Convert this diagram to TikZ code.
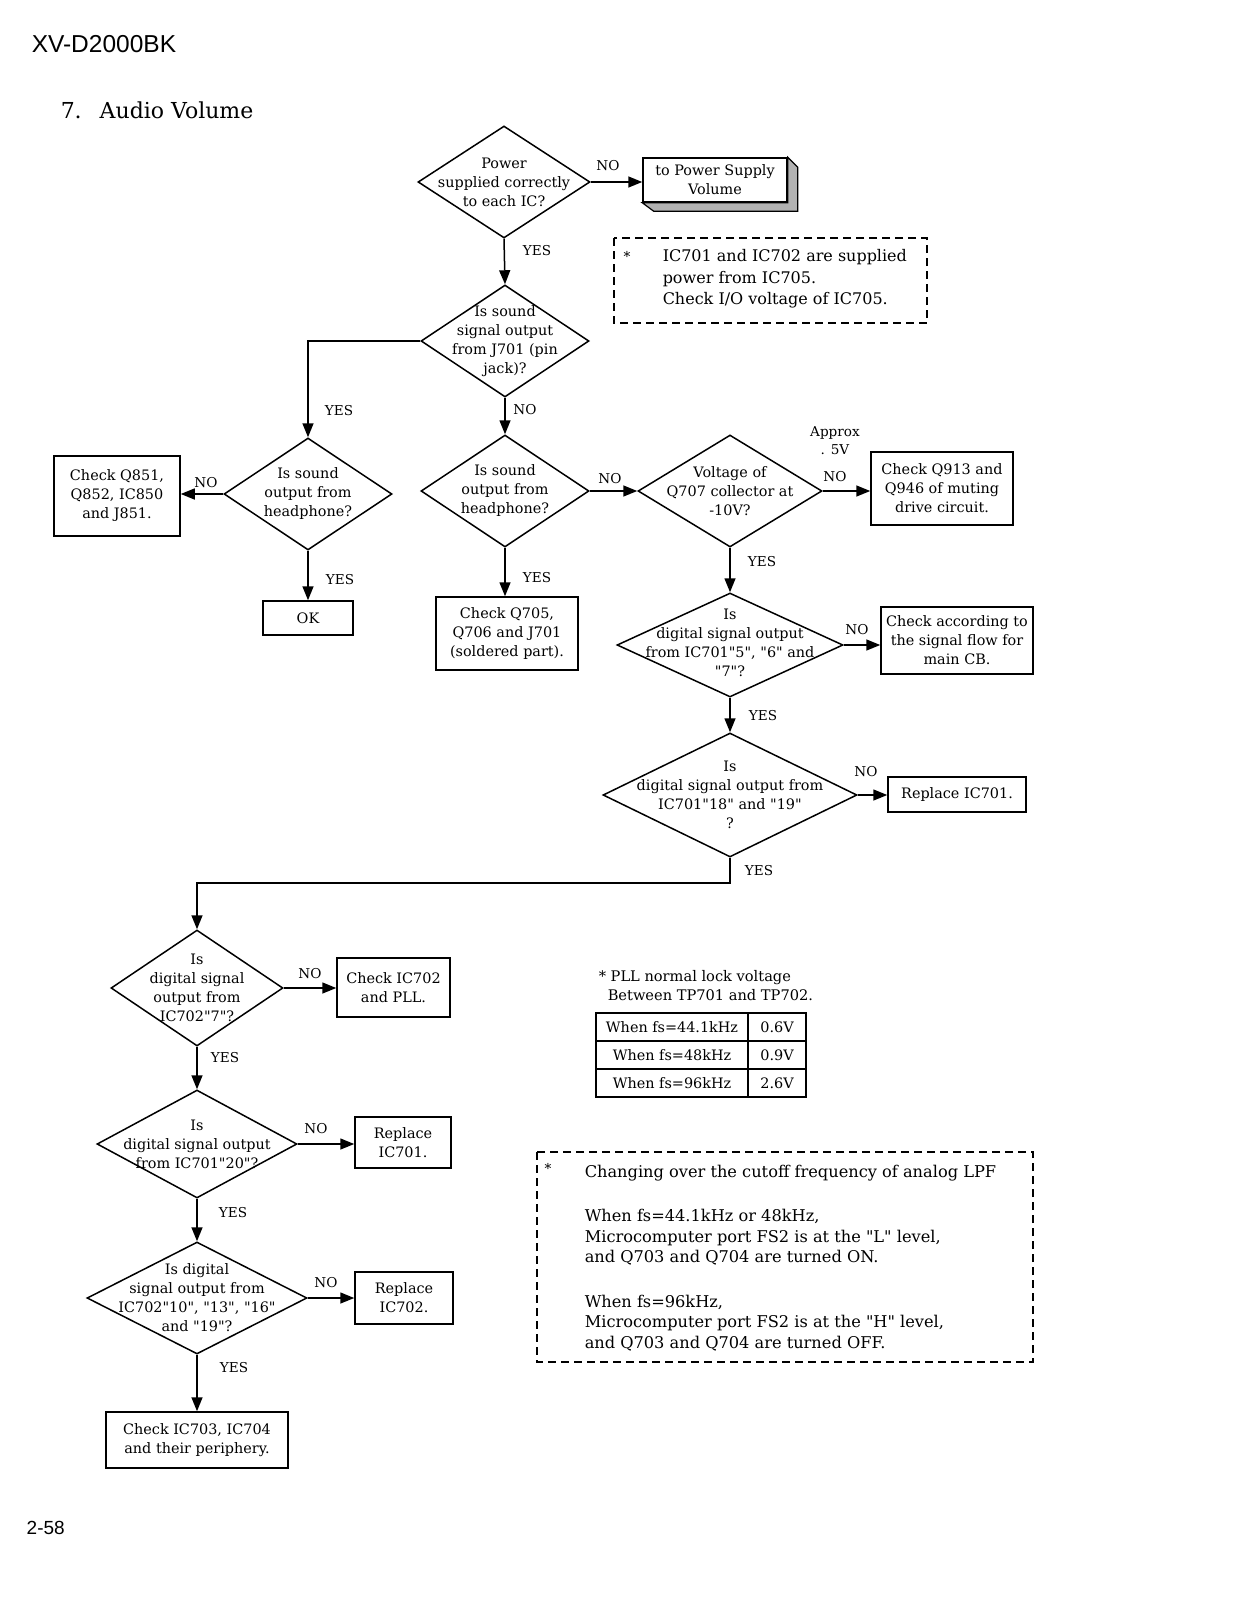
\documentclass[tikz,border=0pt]{standalone}
\usepackage{fontspec}
\setmainfont{DejaVu Serif}[Ligatures=TeXOff]
\newfontfamily\hdrfont{Liberation Sans}
\usetikzlibrary{shapes.geometric,arrows.meta}

\begin{document}
\begin{tikzpicture}[x=1pt, y=-1pt, line width=1.5pt,
	dia/.style={draw, diamond, inner sep=0pt},
	dtext/.style={align=center, inner sep=0pt, font=\fontsize{14.4}{19}\selectfont},
	box/.style={draw, rectangle, inner sep=0pt, align=center, font=\fontsize{14.4}{19}\selectfont},
	cell/.style={draw, rectangle, inner sep=0pt, minimum height=28pt, font=\fontsize{14.4}{19}\selectfont},
	lbl/.style={inner sep=0pt, align=center, font=\fontsize{13.6}{18}\selectfont},
	arr/.style={-{Triangle[length=14pt,width=11pt]}},
	note/.style={draw, dash pattern=on 8pt off 5pt, line width=1.3pt}]
	\useasboundingbox (0,0) rectangle (1237,1600);

	% page header and footer
	\node[anchor=west, inner sep=0pt, font=\hdrfont\fontsize{24.5}{28}\selectfont] (model) at (31,44.5) {XV-D2000BK};
	\node[anchor=west, inner sep=0pt, font=\fontsize{22}{26}\selectfont] (title) at (60,110) {7.\hspace{18pt}Audio Volume};
	\node[anchor=west, inner sep=0pt, font=\hdrfont\fontsize{19}{22}\selectfont] (page) at (26,1528) {2-58};

	% upper part
	\node[dia, minimum width=172pt, minimum height=112pt] (d1) at (504,182) {};
		\node[dtext] (d1t) at (d1) {Power\\supplied correctly\\to each IC?};
	\node[box, minimum width=144pt, minimum height=44pt] (ps) at (715,180) {to Power Supply\\Volume};
		\filldraw[fill=black!30, line width=1.2pt] (ps.north east) -- ++(10,10) -- ++(0,44) -- ++(-144,0) -- (ps.south west) -- (ps.south east) -- cycle;
	\node[dia, minimum width=168pt, minimum height=112pt] (d2) at (505,341) {};
		\node[dtext] (d2t) at (d2) {Is sound\\signal output\\from J701 (pin\\jack)?};

	\draw[note] (614,238) rectangle (927,323);
		\node[lbl] (star1) at (627,256) {*};
		\node[anchor=west, align=left, inner sep=0pt, font=\fontsize{16}{21.5}\selectfont] (note1) at (662,279) {IC701 and IC702 are supplied\\power from IC705.\\Check I/O voltage of IC705.};

	% headphone checks
	\node[dia, minimum width=168pt, minimum height=112pt] (d3) at (308,494) {};
		\node[dtext] (d3t) at (d3) {Is sound\\output from\\headphone?};
	\node[box, minimum width=126pt, minimum height=80pt] (q851) at (117,496) {Check Q851,\\Q852, IC850\\and J851.};
	\node[box, minimum width=90pt, minimum height=34pt] (ok) at (308,618) {OK};
	\node[dia, minimum width=168pt, minimum height=112pt] (d4) at (505,491) {};
		\node[dtext] (d4t) at (d4) {Is sound\\output from\\headphone?};
	\node[box, minimum width=142pt, minimum height=73pt] (q705) at (507,633.5) {Check Q705,\\Q706 and J701\\(soldered part).};

	% right column
	\node[dia, minimum width=184pt, minimum height=112pt] (d5) at (730,491) {};
		\node[dtext] (d5t) at (d5) {Voltage of\\Q707 collector at\\-10V?};
	\node[box, minimum width=142pt, minimum height=73pt] (q913) at (942,488.5) {Check Q913 and\\Q946 of muting\\drive circuit.};
	\node[dia, minimum width=226pt, minimum height=104pt] (d6) at (730,645) {};
		\node[dtext] (d6t) at (730,643) {Is\\digital signal output\\from IC701"5", "6" and\\"7"?};
	\node[box, minimum width=152pt, minimum height=67pt] (flow) at (957,640.5) {Check according to\\the signal flow for\\main CB.};
	\node[dia, minimum width=254pt, minimum height=124pt] (d7) at (730,795) {};
		\node[dtext] (d7t) at (d7) {Is\\digital signal output from\\IC701"18" and "19"\\?};
	\node[box, minimum width=138pt, minimum height=35pt] (rep1) at (957,794.5) {Replace IC701.};

	% lower left column
	\node[dia, minimum width=172pt, minimum height=116pt] (d8) at (197,988) {};
		\node[dtext] (d8t) at (d8) {Is\\digital signal\\output from\\IC702"7"?};
	\node[box, minimum width=113pt, minimum height=59pt] (pll) at (393.5,987.5) {Check IC702\\and PLL.};
	\node[dia, minimum width=200pt, minimum height=108pt] (d9) at (197,1144) {};
		\node[dtext] (d9t) at (d9) {Is\\digital signal output\\from IC701"20"?};
	\node[box, minimum width=96pt, minimum height=51pt] (rep2) at (403,1142.5) {Replace\\IC701.};
	\node[dia, minimum width=220pt, minimum height=112pt] (d10) at (197,1298) {};
		\node[dtext] (d10t) at (d10) {Is digital\\signal output from\\IC702"10", "13", "16"\\and "19"?};
	\node[box, minimum width=98pt, minimum height=52pt] (rep3) at (404,1298) {Replace\\IC702.};
	\node[box, minimum width=182pt, minimum height=56pt] (ic703) at (197,1440) {Check IC703, IC704\\and their periphery.};

	% PLL table
	\node[anchor=base west, inner sep=0pt, font=\fontsize{14.6}{19}\selectfont] (pll1) at (598,981) {* PLL normal lock voltage};
	\node[anchor=base west, inner sep=0pt, font=\fontsize{14.6}{19}\selectfont] (pll2) at (607,1000) {Between TP701 and TP702.};
	\foreach \f/\v/\y [count=\i] in {44.1/0.6/1027, 48/0.9/1055, 96/2.6/1083}{
		\node[cell, minimum width=152pt] (f\i) at (672,\y) {When fs=\f kHz};
		\node[cell, minimum width=58pt] (v\i) at (777,\y) {\v V};
	}

	% LPF note
	\draw[note] (537,1152) rectangle (1033,1362);
		\node[lbl] (star2) at (548,1168) {*};
		\node[anchor=north west, align=left, inner sep=0pt, font=\fontsize{16.2}{20.5}\selectfont] (note2) at (584,1164) {Changing over the cutoff frequency of analog LPF\\[24pt]When fs=44.1kHz or 48kHz,\\Microcomputer port FS2 is at the "L" level,\\and Q703 and Q704 are turned ON.\\[24pt]When fs=96kHz,\\Microcomputer port FS2 is at the "H" level,\\and Q703 and Q704 are turned OFF.};

	% connectors
	\draw[arr] (d1.east) -- (d1.east -| ps.west);
	\draw[arr] (d1.south) -- (d2.north);
	\draw[arr] (d2.west) -| (d3.north);
	\draw[arr] (d2.south) -- (d4.north);
	\draw[arr] (d3.west) -- (d3.west -| q851.east);
	\draw[arr] (d3.south) -- (ok.north);
	\draw[arr] (d4.south) -- (d4.south |- q705.north);
	\draw[arr] (d4.east) -- (d5.west);
	\draw[arr] (d5.east) -- (d5.east -| q913.west);
	\draw[arr] (d5.south) -- (d6.north);
	\draw[arr] (d6.east) -- (d6.east -| flow.west);
	\draw[arr] (d6.south) -- (d7.north);
	\draw[arr] (d7.east) -- (d7.east -| rep1.west);
	\draw[arr] (d7.south) -- ++(0,25) -| (d8.north);
	\draw[arr] (d8.east) -- (d8.east -| pll.west);
	\draw[arr] (d8.south) -- (d9.north);
	\draw[arr] (d9.east) -- (d9.east -| rep2.west);
	\draw[arr] (d9.south) -- (d10.north);
	\draw[arr] (d10.east) -- (d10.east -| rep3.west);
	\draw[arr] (d10.south) -- (ic703.north);

	% YES / NO labels
	\node[lbl] (no1) at (608,166) {NO};
	\node[lbl] (yes1) at (537,251) {YES};
	\node[lbl] (yes2) at (339,411) {YES};
	\node[lbl] (no2) at (525,410) {NO};
	\node[lbl] (no3) at (206,483) {NO};
	\node[lbl] (yes3) at (340,580) {YES};
	\node[lbl] (yes4) at (537,578) {YES};
	\node[lbl] (no4) at (610,479) {NO};
	\node[lbl] (approx) at (835,441) {Approx\\. 5V};
	\node[lbl] (no5) at (835,477) {NO};
	\node[lbl] (yes5) at (762,562) {YES};
	\node[lbl] (no6) at (857,630) {NO};
	\node[lbl] (yes6) at (763,716) {YES};
	\node[lbl] (no7) at (866,772) {NO};
	\node[lbl] (yes7) at (759,871) {YES};
	\node[lbl] (no8) at (310,974) {NO};
	\node[lbl] (yes8) at (225,1058) {YES};
	\node[lbl] (no9) at (316,1129) {NO};
	\node[lbl] (yes9) at (233,1213) {YES};
	\node[lbl] (no10) at (326,1283) {NO};
	\node[lbl] (yes10) at (234,1368) {YES};
\end{tikzpicture}
\end{document}
